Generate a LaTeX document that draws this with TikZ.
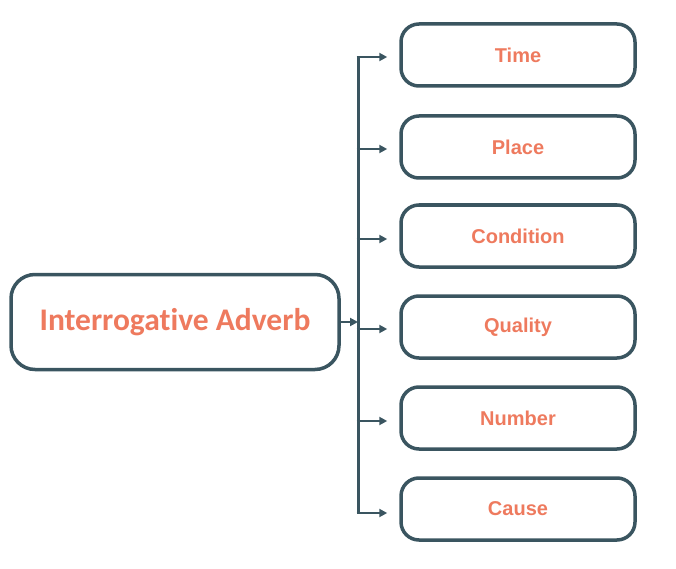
\documentclass[tikz,border=0pt]{standalone}
\usepackage{fontspec}
\setmainfont{Liberation Sans}
\newfontfamily\carlito[Ligatures=NoCommon]{Carlito}
\usetikzlibrary{arrows.meta}
\definecolor{edgec}{HTML}{3A5560}
\definecolor{textc}{HTML}{EE7A5E}
\tikzset{
  x=1pt,y=-1pt,
  mainbox/.style={draw=edgec,line width=3.5pt,rounded corners=24pt,minimum width=328pt,minimum height=95pt,text=textc,font=\carlito\bfseries\fontsize{31.5}{33}\selectfont},
  itembox/.style={draw=edgec,line width=3.5pt,rounded corners=18pt,minimum width=234pt,minimum height=62pt,text=textc,font=\bfseries\fontsize{20}{22}\selectfont},
  bus/.style={draw=edgec,line width=3pt},
  arr/.style={draw=edgec,line width=2.5pt,-{Triangle[length=8pt,width=8pt]}},
}
\begin{document}
\begin{tikzpicture}
\useasboundingbox (0,0) rectangle (676,569);
\node[mainbox] (main) at (175,322) {Interrogative Adverb};
\node[itembox] (t) at (518,55) {Time};
\node[itembox] (p) at (518,147) {Place};
\node[itembox] (c) at (518,236) {Condition};
\node[itembox] (q) at (518,327) {Quality};
\node[itembox] (n) at (518,418) {Number};
\node[itembox] (ca) at (518,509) {Cause};
\coordinate (top) at (358,57);
\coordinate (bot) at (358,513);
\coordinate (mid) at (358,322);
\draw[bus] (top) -- (bot);
\draw[arr] (main.east) -- (mid);
\foreach \b/\y in {t/57,p/149,c/239,q/329,n/421,ca/513}{
  \draw[arr] (356.5,\y) -- ([xshift=-12pt]\b.west |- 0,\y);
}
\end{tikzpicture}
\end{document}
